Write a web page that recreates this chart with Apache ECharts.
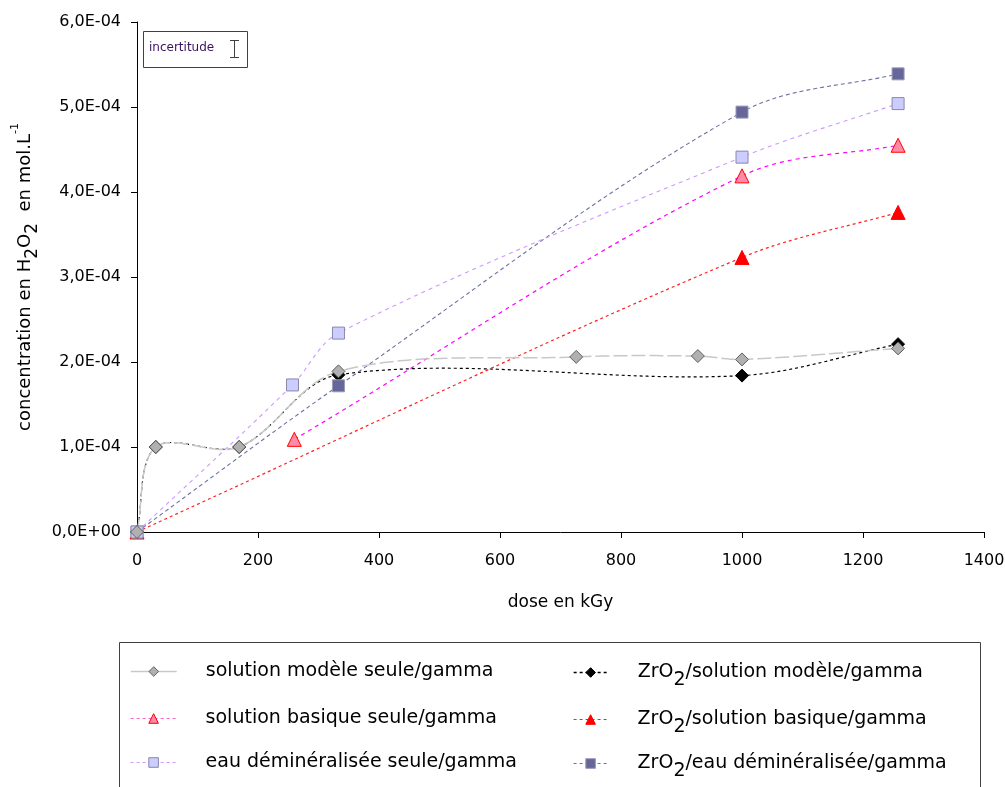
<!DOCTYPE html>
<html>
<head>
<meta charset="utf-8">
<script src="https://cdn.jsdelivr.net/npm/echarts@6/dist/echarts.min.js"></script>
<style>html,body{margin:0;padding:0;background:#fff;}#c{width:1005px;height:787px;}</style>
</head>
<body>
<div id="c"></div>
<script>
// ---- data (dose kGy, concentration mol/L) ----
const xTicks = [0, 200, 400, 600, 800, 1000, 1200, 1400];
const yTicks = [0, 1e-4, 2e-4, 3e-4, 4e-4, 5e-4, 6e-4];

const modeleSeuleDose = [0, 31, 169, 333, 726, 927, 1000, 1258];
const modeleSeuleConc = [0, 1.00e-4, 1.00e-4, 1.89e-4, 2.06e-4, 2.07e-4, 2.03e-4, 2.16e-4];

const zrModeleDose = [0, 31, 169, 333, 1000, 1258];
const zrModeleConc = [0, 1.00e-4, 1.00e-4, 1.85e-4, 1.84e-4, 2.21e-4];

const basiqueSeuleDose = [260, 1000, 1258];
const basiqueSeuleConc = [1.09e-4, 4.19e-4, 4.55e-4];

const zrBasiqueDose = [0, 1000, 1258];
const zrBasiqueConc = [0, 3.23e-4, 3.76e-4];

const eauSeuleDose = [0, 257, 333, 1000, 1258];
const eauSeuleConc = [0, 1.73e-4, 2.34e-4, 4.41e-4, 5.04e-4];

const zrEauDose = [0, 333, 1000, 1258];
const zrEauConc = [0, 1.72e-4, 4.94e-4, 5.39e-4];

const names = [
  'solution modèle seule/gamma',
  'ZrO2/solution modèle/gamma',
  'solution basique seule/gamma',
  'ZrO2/solution basique/gamma',
  'eau déminéralisée seule/gamma',
  'ZrO2/eau déminéralisée/gamma'
];

function pairs(xs, ys){ return xs.map((x,i)=>[x, ys[i]]); }
function fmtE(v){
  if (v === 0) return '0,0E+00';
  let e = Math.floor(Math.log10(v) + 1e-9);
  let m = v / Math.pow(10, e);
  let s = m.toFixed(1).replace('.', ',');
  let es = (e < 0 ? '-' : '+') + String(Math.abs(e)).padStart(2, '0');
  return s + 'E' + es;
}

const FONT = 'DejaVu Sans';
const chart = echarts.init(document.getElementById('c'));

const markerStyles = [
  {color: '#b0b0b0', borderColor: '#606060'},
  {color: '#000000', borderColor: '#000000'},
  {color: '#ff8aa8', borderColor: '#ff0000'},
  {color: '#ff0000', borderColor: '#ff0000'},
  {color: '#ccccff', borderColor: '#8888aa'},
  {color: '#666699', borderColor: '#9999bb'}
];

// marker series (line hidden; curve drawn by smooth custom series below)
function mk(idx, data, symbol, size){
  return {
    name: names[idx], type: 'line', data: data, smooth: false,
    symbol: symbol, symbolSize: size, showSymbol: true, z: 3,
    itemStyle: Object.assign({borderWidth: 1, opacity: 1}, markerStyles[idx]),
    lineStyle: {opacity: 0, width: 0},
    emphasis: {disabled: true}, animation: false
  };
}

function dist(a, b){ return Math.hypot(a[0]-b[0], a[1]-b[1]); }

// smooth curve through the data points (Excel-like), positions from axis coords
function curve(xs, ys, color, dash, width){
  return {
    type: 'custom', coordinateSystem: 'cartesian2d', silent: true, z: 2, clip: false,
    data: [[xs[0], ys[0]]], animation: false,
    renderItem: function(params, api){
      const p = xs.map((x,i)=>api.coord([x, ys[i]]));
      const n = p.length;
      const T = p.map((pt, i) => {
        const a = p[Math.max(i-1,0)], b = p[Math.min(i+1,n-1)];
        const d = dist(pt, a) + dist(b, pt) || 1;
        return [(b[0]-a[0])/d, (b[1]-a[1])/d];
      });
      const out = [p[0]];
      for (let i = 0; i < n - 1; i++) {
        const p1 = p[i], p2 = p[i+1], L = dist(p1, p2);
        const c1 = [p1[0] + T[i][0]*L/3, p1[1] + T[i][1]*L/3];
        const c2 = [p2[0] - T[i+1][0]*L/3, p2[1] - T[i+1][1]*L/3];
        for (let k = 1; k <= 30; k++) {
          const t = k/30, u = 1-t;
          out.push([
            u*u*u*p1[0] + 3*u*u*t*c1[0] + 3*u*t*t*c2[0] + t*t*t*p2[0],
            u*u*u*p1[1] + 3*u*u*t*c1[1] + 3*u*t*t*c2[1] + t*t*t*p2[1]
          ]);
        }
      }
      return {type: 'polyline', shape: {points: out},
        style: {fill: null, stroke: color, lineWidth: width, lineDash: dash}};
    }
  };
}

const legendRich = {
  sub: {fontFamily: FONT, fontSize: 19, color: '#000', padding: [16, 0, 0, 0], verticalAlign: 'bottom'}
};
function legendFmt(n){ return n.replace('ZrO2', 'ZrO{sub|2}'); }

const legendStyles = [
  {color: '#c8c8c8', type: 'solid', width: 1.5},
  {color: '#000000', type: [3, 3], width: 1.3},
  {color: '#ff66cc', type: [3, 3], width: 1.2},
  {color: '#ff2020', type: [3, 3], width: 1.2},
  {color: '#cc99ff', type: [3, 3], width: 1.2},
  {color: '#7070a0', type: [3, 3], width: 1.2}
];
const rowTops1 = [662, 709, 753];
const rowTops2 = [663, 710, 754];
const legends = [];
for (let i = 0; i < 6; i++) {
  const col = i % 2, row = Math.floor(i / 2);
  legends.push({
    data: [{name: names[i],
      lineStyle: Object.assign({opacity: 1}, legendStyles[i]),
      itemStyle: Object.assign({borderWidth: 1, opacity: 1}, markerStyles[i])}],
    orient: 'horizontal', padding: 0,
    left: col === 0 ? 130 : 573, top: col === 0 ? rowTops1[row] : rowTops2[row],
    itemWidth: col === 0 ? 46 : 34, itemHeight: 12,
    textStyle: {fontFamily: FONT, fontSize: 19, color: '#000',
      padding: [0, 0, 0, col === 0 ? 24 : 25], rich: legendRich},
    formatter: legendFmt, selectedMode: false
  });
}

const option = {
  backgroundColor: '#fff',
  animation: false,
  grid: {left: 137, right: 21, top: 22, bottom: 255, containLabel: false, outerBoundsMode: 'none'},
  xAxis: {
    type: 'value', min: 0, max: 1400, interval: 200,
    name: 'dose en kGy', nameLocation: 'middle', nameGap: 62,
    nameTextStyle: {fontFamily: FONT, fontSize: 17, color: '#000'},
    axisLine: {lineStyle: {color: '#000', width: 1}},
    axisTick: {show: true, inside: false, length: 6, lineStyle: {color: '#000'}},
    axisLabel: {fontFamily: FONT, fontSize: 16, color: '#000', margin: 21,
      formatter: function(v){ return String(v); }},
    splitLine: {show: false}
  },
  yAxis: {
    type: 'value', min: 0, max: 6e-4, interval: 1e-4,
    name: 'concentration en H{sub|2}O{sub|2}  en mol.L{sup|-1}',
    nameLocation: 'middle', nameGap: 96, nameRotate: 90,
    nameTextStyle: {fontFamily: FONT, fontSize: 18, color: '#000',
      rich: {
        sub: {fontFamily: FONT, fontSize: 17, color: '#000', padding: [14, 0, 0, 0], verticalAlign: 'bottom'},
        sup: {fontFamily: FONT, fontSize: 11, color: '#000', padding: [0, 0, 14, 0], verticalAlign: 'top'}
      }},
    axisLine: {show: true, lineStyle: {color: '#000', width: 1}},
    axisTick: {show: true, inside: false, length: 6, lineStyle: {color: '#000'}},
    axisLabel: {fontFamily: FONT, fontSize: 16, color: '#000', margin: 16,
      formatter: fmtE},
    splitLine: {show: false}
  },
  legend: legends,
  graphic: [
    {type: 'rect', left: 119, top: 642, z: 0,
      shape: {width: 861, height: 170},
      style: {fill: '#fff', stroke: '#404040', lineWidth: 1}},
    {type: 'rect', left: 143, top: 31, z: 10,
      shape: {width: 104, height: 36},
      style: {fill: '#fff', stroke: '#404040', lineWidth: 1}},
    {type: 'text', left: 149, top: 42, z: 11,
      style: {text: 'incertitude', fontFamily: FONT, fontSize: 12, fill: '#3a1060'}},
    {type: 'line', z: 11, shape: {x1: 230, y1: 40.5, x2: 239, y2: 40.5}, style: {stroke: '#404040', lineWidth: 1}},
    {type: 'line', z: 11, shape: {x1: 234.5, y1: 40.5, x2: 234.5, y2: 57.5}, style: {stroke: '#404040', lineWidth: 1}},
    {type: 'line', z: 11, shape: {x1: 230, y1: 57.5, x2: 239, y2: 57.5}, style: {stroke: '#404040', lineWidth: 1}}
  ],
  series: [
    curve(zrModeleDose, zrModeleConc, '#000000', [3, 3], 1.2),
    curve(zrBasiqueDose, zrBasiqueConc, '#ff2020', [3, 3], 1.2),
    curve(basiqueSeuleDose, basiqueSeuleConc, '#ff00ff', [4, 4], 1.2),
    curve(zrEauDose, zrEauConc, '#7070a0', [4, 3], 1.1),
    curve(eauSeuleDose, eauSeuleConc, '#cc99ff', [4, 4], 1.1),
    curve(modeleSeuleDose, modeleSeuleConc, '#c8c8c8', [14, 4], 1.5),
    mk(1, pairs(zrModeleDose, zrModeleConc), 'diamond', 13),
    mk(3, pairs(zrBasiqueDose, zrBasiqueConc), 'triangle', 14),
    mk(2, pairs(basiqueSeuleDose, basiqueSeuleConc), 'triangle', 14),
    mk(5, pairs(zrEauDose, zrEauConc), 'rect', 12),
    mk(4, pairs(eauSeuleDose, eauSeuleConc), 'rect', 12),
    mk(0, pairs(modeleSeuleDose, modeleSeuleConc), 'diamond', 13)
  ]
};
chart.setOption(option);
</script>
</body>
</html>
